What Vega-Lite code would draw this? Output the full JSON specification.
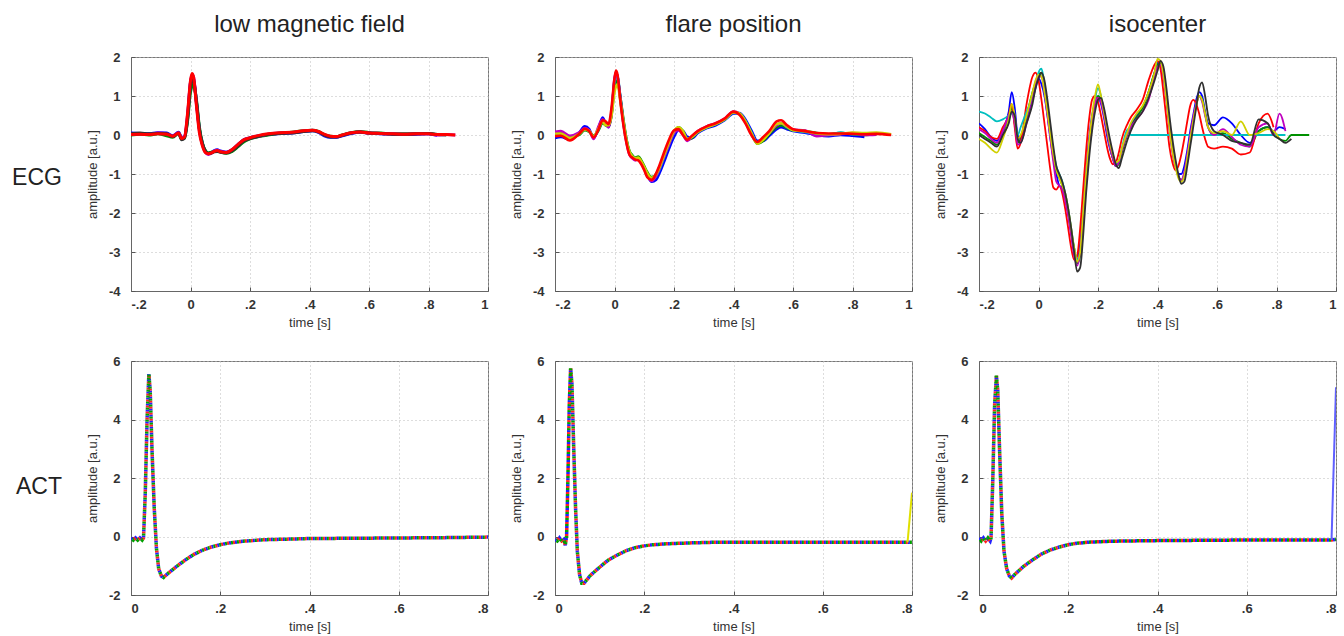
{
"$schema": "https://vega.github.io/schema/vega-lite/v6.json",
"padding": {"left": 12, "top": 12, "right": 0, "bottom": 0},
"background": "white",
"config": {
  "font": "Liberation Sans",
  "view": {"stroke": "#777", "strokeWidth": 1},
  "axis": {"labelFont": "Liberation Sans", "labelFontSize": 13, "labelFontWeight": "bold", "labelColor": "#333", "titleFont": "Liberation Sans", "titleFontSize": 13, "titleFontWeight": "normal", "titleColor": "#333", "domainColor": "#666", "tickColor": "#555", "tickSize": -4, "gridColor": "#bbb", "gridDash": [1, 3], "grid": true},
  "axisX": {"labelPadding": 11, "titlePadding": 5},
  "axisY": {"labelPadding": 15, "titlePadding": 9},
  "title": {"font": "Liberation Sans", "fontWeight": "normal", "color": "#222"}
},
"datasets": {
  "e1": [
    {"t": -0.2, "b": 0.05, "g": 0.0, "m": 0.02, "k": 0.03, "r": 0.01},
    {"t": -0.17, "b": 0.04, "g": 0.02, "m": 0.03, "k": 0.05, "r": 0.02},
    {"t": -0.14, "b": 0.03, "g": 0.0, "m": 0.02, "k": 0.03, "r": 0.01},
    {"t": -0.11, "b": 0.06, "g": 0.03, "m": 0.05, "k": 0.04, "r": 0.03},
    {"t": -0.08, "b": 0.05, "g": -0.02, "m": 0.03, "k": 0.03, "r": 0.02},
    {"t": -0.06, "b": -0.02, "g": -0.06, "m": -0.03, "k": -0.04, "r": -0.03},
    {"t": -0.04, "b": 0.07, "g": 0.05, "m": 0.06, "k": 0.04, "r": 0.05},
    {"t": -0.03, "b": -0.06, "g": -0.1, "m": -0.08, "k": -0.12, "r": -0.09},
    {"t": -0.02, "b": -0.05, "g": -0.07, "m": -0.04, "k": -0.08, "r": -0.05},
    {"t": -0.01, "b": 0.45, "g": 0.35, "m": 0.5, "k": 0.4, "r": 0.55},
    {"t": 0, "b": 1.35, "g": 1.1, "m": 1.35, "k": 1.25, "r": 1.4},
    {"t": 0.005, "b": 1.5, "g": 1.25, "m": 1.55, "k": 1.45, "r": 1.58},
    {"t": 0.01, "b": 1.45, "g": 1.3, "m": 1.5, "k": 1.4, "r": 1.5},
    {"t": 0.02, "b": 0.85, "g": 0.9, "m": 0.8, "k": 0.85, "r": 0.75},
    {"t": 0.03, "b": 0.15, "g": 0.2, "m": 0.1, "k": 0.15, "r": 0.05},
    {"t": 0.04, "b": -0.22, "g": -0.2, "m": -0.25, "k": -0.23, "r": -0.28},
    {"t": 0.05, "b": -0.42, "g": -0.4, "m": -0.44, "k": -0.41, "r": -0.45},
    {"t": 0.06, "b": -0.48, "g": -0.46, "m": -0.5, "k": -0.47, "r": -0.48},
    {"t": 0.07, "b": -0.45, "g": -0.44, "m": -0.47, "k": -0.46, "r": -0.46},
    {"t": 0.08, "b": -0.4, "g": -0.42, "m": -0.41, "k": -0.43, "r": -0.42},
    {"t": 0.09, "b": -0.38, "g": -0.4, "m": -0.39, "k": -0.42, "r": -0.4},
    {"t": 0.1, "b": -0.41, "g": -0.43, "m": -0.42, "k": -0.44, "r": -0.43},
    {"t": 0.12, "b": -0.44, "g": -0.47, "m": -0.45, "k": -0.46, "r": -0.45},
    {"t": 0.14, "b": -0.38, "g": -0.42, "m": -0.38, "k": -0.4, "r": -0.37},
    {"t": 0.16, "b": -0.24, "g": -0.3, "m": -0.26, "k": -0.28, "r": -0.24},
    {"t": 0.18, "b": -0.12, "g": -0.17, "m": -0.13, "k": -0.15, "r": -0.12},
    {"t": 0.2, "b": -0.07, "g": -0.1, "m": -0.08, "k": -0.09, "r": -0.07},
    {"t": 0.23, "b": -0.02, "g": -0.04, "m": -0.03, "k": -0.03, "r": -0.01},
    {"t": 0.26, "b": 0.01, "g": 0.0, "m": 0.02, "k": 0.01, "r": 0.03},
    {"t": 0.3, "b": 0.04, "g": 0.05, "m": 0.05, "k": 0.04, "r": 0.06},
    {"t": 0.34, "b": 0.05, "g": 0.07, "m": 0.06, "k": 0.05, "r": 0.07},
    {"t": 0.38, "b": 0.09, "g": 0.11, "m": 0.1, "k": 0.09, "r": 0.11},
    {"t": 0.41, "b": 0.11, "g": 0.12, "m": 0.12, "k": 0.11, "r": 0.12},
    {"t": 0.43, "b": 0.07, "g": 0.09, "m": 0.08, "k": 0.08, "r": 0.09},
    {"t": 0.45, "b": -0.02, "g": 0.01, "m": 0.0, "k": 0.0, "r": 0.02},
    {"t": 0.47, "b": -0.06, "g": -0.03, "m": -0.04, "k": -0.05, "r": -0.03},
    {"t": 0.49, "b": -0.06, "g": -0.04, "m": -0.05, "k": -0.05, "r": -0.04},
    {"t": 0.51, "b": -0.02, "g": 0.0, "m": -0.01, "k": -0.01, "r": 0.0},
    {"t": 0.54, "b": 0.04, "g": 0.06, "m": 0.05, "k": 0.05, "r": 0.06},
    {"t": 0.57, "b": 0.07, "g": 0.09, "m": 0.08, "k": 0.08, "r": 0.08},
    {"t": 0.6, "b": 0.05, "g": 0.06, "m": 0.05, "k": 0.05, "r": 0.05},
    {"t": 0.64, "b": 0.03, "g": 0.05, "m": 0.04, "k": 0.04, "r": 0.04},
    {"t": 0.68, "b": 0.02, "g": 0.03, "m": 0.03, "k": 0.02, "r": 0.03},
    {"t": 0.72, "b": 0.01, "g": 0.03, "m": 0.02, "k": 0.02, "r": 0.02},
    {"t": 0.76, "b": 0.02, "g": 0.04, "m": 0.03, "k": 0.03, "r": 0.03},
    {"t": 0.8, "b": 0.03, "g": 0.04, "m": 0.03, "k": 0.04, "r": 0.03},
    {"t": 0.83, "b": -0.01, "g": 0.01, "m": 0.0, "k": 0.01, "r": 0.01},
    {"t": 0.86, "b": null, "g": 0.01, "m": 0.01, "k": 0.0, "r": 0.01},
    {"t": 0.89, "b": null, "g": null, "m": 0.0, "k": null, "r": 0.0}
  ],
  "e2": [
    {"t": -0.2, "b": -0.08, "g": 0.05, "c": 0.0, "m": 0.08, "y": 0.03, "r": -0.03},
    {"t": -0.18, "b": -0.05, "g": 0.06, "c": 0.02, "m": 0.1, "y": 0.04, "r": -0.02},
    {"t": -0.15, "b": -0.12, "g": -0.05, "c": -0.1, "m": -0.02, "y": -0.08, "r": -0.14},
    {"t": -0.12, "b": 0.05, "g": 0.0, "c": 0.03, "m": 0.06, "y": 0.02, "r": 0.02},
    {"t": -0.1, "b": 0.22, "g": 0.12, "c": 0.15, "m": 0.18, "y": 0.14, "r": 0.16},
    {"t": -0.085, "b": 0.15, "g": 0.08, "c": 0.1, "m": 0.12, "y": 0.1, "r": 0.1},
    {"t": -0.07, "b": -0.08, "g": -0.02, "c": -0.05, "m": -0.1, "y": -0.04, "r": -0.06},
    {"t": -0.055, "b": 0.15, "g": 0.1, "c": 0.12, "m": 0.2, "y": 0.15, "r": 0.12},
    {"t": -0.04, "b": 0.45, "g": 0.3, "c": 0.35, "m": 0.4, "y": 0.35, "r": 0.38},
    {"t": -0.03, "b": 0.3, "g": 0.25, "c": 0.28, "m": 0.3, "y": 0.25, "r": 0.35},
    {"t": -0.02, "b": 0.2, "g": 0.22, "c": 0.25, "m": 0.2, "y": 0.25, "r": 0.28},
    {"t": -0.01, "b": 0.55, "g": 0.5, "c": 0.6, "m": 0.55, "y": 0.5, "r": 0.7},
    {"t": 0, "b": 1.4, "g": 1.2, "c": 1.35, "m": 1.45, "y": 1.1, "r": 1.45},
    {"t": 0.005, "b": 1.6, "g": 1.35, "c": 1.5, "m": 1.6, "y": 1.25, "r": 1.65},
    {"t": 0.01, "b": 1.5, "g": 1.4, "c": 1.5, "m": 1.5, "y": 1.3, "r": 1.55},
    {"t": 0.02, "b": 0.95, "g": 0.95, "c": 0.9, "m": 0.9, "y": 0.85, "r": 0.85},
    {"t": 0.03, "b": 0.35, "g": 0.4, "c": 0.3, "m": 0.3, "y": 0.35, "r": 0.25},
    {"t": 0.04, "b": -0.12, "g": -0.1, "c": -0.15, "m": -0.18, "y": -0.12, "r": -0.2},
    {"t": 0.05, "b": -0.45, "g": -0.4, "c": -0.45, "m": -0.5, "y": -0.42, "r": -0.5},
    {"t": 0.06, "b": -0.55, "g": -0.52, "c": -0.55, "m": -0.6, "y": -0.55, "r": -0.58},
    {"t": 0.07, "b": -0.62, "g": -0.58, "c": -0.6, "m": -0.65, "y": -0.6, "r": -0.63},
    {"t": 0.08, "b": -0.6, "g": -0.55, "c": -0.62, "m": -0.6, "y": -0.58, "r": -0.65},
    {"t": 0.09, "b": -0.7, "g": -0.65, "c": -0.72, "m": -0.72, "y": -0.68, "r": -0.75},
    {"t": 0.1, "b": -0.85, "g": -0.8, "c": -0.85, "m": -0.88, "y": -0.82, "r": -0.9},
    {"t": 0.11, "b": -1.02, "g": -0.95, "c": -1.0, "m": -1.05, "y": -0.98, "r": -1.08},
    {"t": 0.125, "b": -1.2, "g": -1.08, "c": -1.15, "m": -1.18, "y": -1.1, "r": -1.15},
    {"t": 0.14, "b": -1.15, "g": -1.0, "c": -1.05, "m": -1.05, "y": -1.0, "r": -0.98},
    {"t": 0.15, "b": -1.0, "g": -0.85, "c": -0.9, "m": -0.88, "y": -0.85, "r": -0.8},
    {"t": 0.165, "b": -0.72, "g": -0.55, "c": -0.6, "m": -0.58, "y": -0.55, "r": -0.48},
    {"t": 0.18, "b": -0.42, "g": -0.25, "c": -0.3, "m": -0.3, "y": -0.25, "r": -0.18},
    {"t": 0.2, "b": -0.05, "g": 0.08, "c": 0.05, "m": 0.05, "y": 0.1, "r": 0.12},
    {"t": 0.215, "b": 0.12, "g": 0.2, "c": 0.18, "m": 0.12, "y": 0.2, "r": 0.15},
    {"t": 0.23, "b": 0.1, "g": 0.1, "c": 0.05, "m": 0.0, "y": 0.1, "r": 0.0},
    {"t": 0.245, "b": -0.05, "g": -0.12, "c": -0.1, "m": -0.15, "y": -0.1, "r": -0.12},
    {"t": 0.26, "b": -0.08, "g": -0.08, "c": -0.05, "m": -0.05, "y": -0.05, "r": -0.02},
    {"t": 0.28, "b": 0.05, "g": 0.08, "c": 0.08, "m": 0.1, "y": 0.08, "r": 0.1},
    {"t": 0.31, "b": 0.18, "g": 0.2, "c": 0.2, "m": 0.22, "y": 0.2, "r": 0.22},
    {"t": 0.34, "b": 0.25, "g": 0.28, "c": 0.28, "m": 0.3, "y": 0.28, "r": 0.3},
    {"t": 0.37, "b": 0.38, "g": 0.4, "c": 0.4, "m": 0.42, "y": 0.4, "r": 0.42},
    {"t": 0.4, "b": 0.55, "g": 0.58, "c": 0.57, "m": 0.6, "y": 0.58, "r": 0.6},
    {"t": 0.42, "b": 0.56, "g": 0.55, "c": 0.55, "m": 0.55, "y": 0.55, "r": 0.52},
    {"t": 0.44, "b": 0.4, "g": 0.35, "c": 0.36, "m": 0.33, "y": 0.35, "r": 0.3},
    {"t": 0.46, "b": 0.12, "g": 0.05, "c": 0.06, "m": 0.02, "y": 0.05, "r": 0.0},
    {"t": 0.48, "b": -0.15, "g": -0.22, "c": -0.2, "m": -0.2, "y": -0.22, "r": -0.18},
    {"t": 0.5, "b": -0.15, "g": -0.15, "c": -0.1, "m": -0.1, "y": -0.12, "r": -0.05},
    {"t": 0.52, "b": -0.02, "g": 0.02, "c": 0.05, "m": 0.05, "y": 0.05, "r": 0.1},
    {"t": 0.545, "b": 0.15, "g": 0.2, "c": 0.25, "m": 0.25, "y": 0.28, "r": 0.35},
    {"t": 0.56, "b": 0.2, "g": 0.25, "c": 0.3, "m": 0.3, "y": 0.3, "r": 0.38},
    {"t": 0.58, "b": 0.15, "g": 0.18, "c": 0.2, "m": 0.22, "y": 0.22, "r": 0.25},
    {"t": 0.6, "b": 0.1, "g": 0.12, "c": 0.12, "m": 0.14, "y": 0.12, "r": 0.15},
    {"t": 0.64, "b": 0.06, "g": 0.1, "c": 0.08, "m": 0.12, "y": 0.1, "r": 0.1},
    {"t": 0.68, "b": 0.0, "g": 0.05, "c": 0.03, "m": -0.03, "y": 0.04, "r": 0.05},
    {"t": 0.72, "b": -0.03, "g": 0.02, "c": 0.0, "m": 0.0, "y": 0.02, "r": 0.04},
    {"t": 0.76, "b": 0.0, "g": 0.05, "c": 0.06, "m": 0.02, "y": 0.03, "r": 0.04},
    {"t": 0.8, "b": -0.02, "g": 0.03, "c": 0.02, "m": 0.05, "y": 0.06, "r": 0.03},
    {"t": 0.84, "b": -0.05, "g": 0.0, "c": 0.02, "m": 0.0, "y": 0.05, "r": 0.02},
    {"t": 0.88, "b": null, "g": 0.02, "c": 0.03, "m": 0.01, "y": 0.06, "r": 0.03},
    {"t": 0.93, "b": null, "g": null, "c": null, "m": null, "y": 0.02, "r": 0.0}
  ],
  "e3": [
    {"t": -0.2, "b": 0.3, "g": 0.05, "r": 0.2, "c": 0.6, "m": 0.15, "y": -0.1, "k": 0.0},
    {"t": -0.18, "b": 0.15, "g": -0.05, "r": 0.1, "c": 0.55, "m": 0.05, "y": -0.2, "k": -0.1},
    {"t": -0.16, "b": -0.05, "g": -0.15, "r": -0.05, "c": 0.45, "m": -0.1, "y": -0.35, "k": -0.2},
    {"t": -0.14, "b": -0.15, "g": -0.25, "r": -0.1, "c": 0.35, "m": -0.2, "y": -0.45, "k": -0.3},
    {"t": -0.12, "b": 0.1, "g": 0.0, "r": 0.2, "c": 0.4, "m": 0.1, "y": -0.1, "k": 0.0},
    {"t": -0.1, "b": 0.6, "g": 0.4, "r": 0.5, "c": 0.5, "m": 0.5, "y": 0.4, "k": 0.3},
    {"t": -0.09, "b": 1.1, "g": 0.7, "r": 0.8, "c": 0.55, "m": 0.6, "y": 0.8, "k": 0.6},
    {"t": -0.08, "b": 0.7, "g": 0.3, "r": 0.2, "c": 0.4, "m": 0.3, "y": 0.5, "k": 0.5},
    {"t": -0.07, "b": 0.0, "g": -0.2, "r": -0.35, "c": 0.0, "m": -0.25, "y": -0.1, "k": -0.1},
    {"t": -0.06, "b": -0.1, "g": -0.1, "r": -0.2, "c": 0.2, "m": -0.2, "y": 0.0, "k": -0.2},
    {"t": -0.04, "b": 0.4, "g": 0.5, "r": 0.8, "c": 0.6, "m": 0.3, "y": 0.5, "k": 0.3},
    {"t": -0.02, "b": 0.9, "g": 1.1, "r": 1.5, "c": 1.0, "m": 0.9, "y": 1.1, "k": 0.8},
    {"t": -0.01, "b": 1.2, "g": 1.35, "r": 1.6, "c": 1.3, "m": 1.3, "y": 1.4, "k": 1.2},
    {"t": 0, "b": 1.45, "g": 1.55, "r": 1.4, "c": 1.6, "m": 1.5, "y": 1.55, "k": 1.45},
    {"t": 0.01, "b": 1.3, "g": 1.6, "r": 0.9, "c": 1.7, "m": 1.5, "y": 1.5, "k": 1.6},
    {"t": 0.02, "b": 1.0, "g": 1.2, "r": 0.3, "c": 1.3, "m": 1.1, "y": 1.1, "k": 1.4},
    {"t": 0.03, "b": 0.5, "g": 0.6, "r": -0.3, "c": 0.7, "m": 0.5, "y": 0.6, "k": 0.9},
    {"t": 0.04, "b": -0.1, "g": 0.0, "r": -0.9, "c": 0.1, "m": -0.1, "y": 0.0, "k": 0.3},
    {"t": 0.05, "b": -0.6, "g": -0.5, "r": -1.35, "c": -0.4, "m": -0.7, "y": -0.5, "k": -0.3},
    {"t": 0.06, "b": -1.0, "g": -0.9, "r": -1.4, "c": -0.8, "m": -1.2, "y": -0.9, "k": -0.8},
    {"t": 0.07, "b": -1.3, "g": -1.1, "r": -1.3, "c": -1.0, "m": -1.3, "y": -1.1, "k": -1.0},
    {"t": 0.08, "b": -1.35, "g": -1.3, "r": -1.5, "c": -1.2, "m": -1.4, "y": -1.3, "k": -1.2},
    {"t": 0.09, "b": -1.6, "g": -1.6, "r": -1.9, "c": -1.5, "m": -1.7, "y": -1.5, "k": -1.5},
    {"t": 0.1, "b": -2.0, "g": -2.0, "r": -2.4, "c": -1.9, "m": -2.1, "y": -1.9, "k": -1.9},
    {"t": 0.11, "b": -2.5, "g": -2.5, "r": -2.9, "c": -2.4, "m": -2.6, "y": -2.4, "k": -2.4},
    {"t": 0.12, "b": -3.0, "g": -2.9, "r": -3.2, "c": -2.9, "m": -3.1, "y": -2.9, "k": -3.0},
    {"t": 0.13, "b": -3.2, "g": -3.3, "r": -3.1, "c": -3.2, "m": -3.35, "y": -3.25, "k": -3.5},
    {"t": 0.14, "b": -2.8, "g": -3.1, "r": -2.4, "c": -3.0, "m": -3.0, "y": -3.0, "k": -3.4},
    {"t": 0.15, "b": -1.9, "g": -2.2, "r": -1.4, "c": -2.2, "m": -2.1, "y": -2.0, "k": -2.6},
    {"t": 0.16, "b": -0.9, "g": -1.2, "r": -0.4, "c": -1.2, "m": -1.1, "y": -1.0, "k": -1.5},
    {"t": 0.17, "b": -0.1, "g": -0.3, "r": 0.4, "c": -0.3, "m": -0.2, "y": -0.2, "k": -0.6},
    {"t": 0.18, "b": 0.5, "g": 0.4, "r": 0.9, "c": 0.4, "m": 0.4, "y": 0.5, "k": 0.1},
    {"t": 0.19, "b": 0.8, "g": 0.8, "r": 1.0, "c": 0.9, "m": 0.8, "y": 1.0, "k": 0.6},
    {"t": 0.2, "b": 0.95, "g": 1.0, "r": 0.85, "c": 1.2, "m": 0.95, "y": 1.3, "k": 0.9},
    {"t": 0.21, "b": 0.8, "g": 0.9, "r": 0.5, "c": 1.0, "m": 0.85, "y": 1.0, "k": 0.95},
    {"t": 0.22, "b": 0.45, "g": 0.55, "r": 0.1, "c": 0.6, "m": 0.5, "y": 0.6, "k": 0.7},
    {"t": 0.23, "b": 0.0, "g": 0.1, "r": -0.3, "c": 0.15, "m": 0.1, "y": 0.2, "k": 0.3},
    {"t": 0.24, "b": -0.35, "g": -0.3, "r": -0.6, "c": -0.25, "m": -0.3, "y": -0.2, "k": -0.1},
    {"t": 0.25, "b": -0.6, "g": -0.6, "r": -0.75, "c": -0.55, "m": -0.6, "y": -0.5, "k": -0.45},
    {"t": 0.26, "b": -0.8, "g": -0.8, "r": -0.7, "c": -0.75, "m": -0.8, "y": -0.7, "k": -0.75},
    {"t": 0.27, "b": -0.7, "g": -0.75, "r": -0.45, "c": -0.7, "m": -0.7, "y": -0.65, "k": -0.85},
    {"t": 0.28, "b": -0.4, "g": -0.45, "r": -0.1, "c": -0.35, "m": -0.4, "y": -0.35, "k": -0.6},
    {"t": 0.3, "b": 0.1, "g": 0.05, "r": 0.3, "c": 0.15, "m": 0.05, "y": 0.1, "k": -0.1},
    {"t": 0.31, "b": 0.25, "g": 0.2, "r": 0.45, "c": 0.0, "m": 0.2, "y": 0.3, "k": 0.1},
    {"t": 0.33, "b": 0.5, "g": 0.45, "r": 0.65, "c": 0.0, "m": 0.4, "y": 0.55, "k": 0.4},
    {"t": 0.35, "b": 0.7, "g": 0.7, "r": 0.9, "c": 0.0, "m": 0.6, "y": 0.75, "k": 0.6},
    {"t": 0.37, "b": 1.1, "g": 1.1, "r": 1.4, "c": 0.0, "m": 0.9, "y": 1.1, "k": 0.95},
    {"t": 0.39, "b": 1.6, "g": 1.6, "r": 1.8, "c": 0.0, "m": 1.5, "y": 1.6, "k": 1.4},
    {"t": 0.4, "b": 1.85, "g": 1.8, "r": 1.9, "c": 0.0, "m": 1.75, "y": 1.95, "k": 1.65},
    {"t": 0.41, "b": 1.85, "g": 1.85, "r": 1.7, "c": 0.0, "m": 1.8, "y": 1.9, "k": 1.9},
    {"t": 0.42, "b": 1.5, "g": 1.6, "r": 1.1, "c": 0.0, "m": 1.5, "y": 1.55, "k": 1.75},
    {"t": 0.43, "b": 0.9, "g": 1.0, "r": 0.4, "c": 0.0, "m": 0.9, "y": 0.9, "k": 1.2},
    {"t": 0.44, "b": 0.2, "g": 0.3, "r": -0.3, "c": 0.0, "m": 0.2, "y": 0.2, "k": 0.5},
    {"t": 0.45, "b": -0.4, "g": -0.3, "r": -0.7, "c": 0.0, "m": -0.4, "y": -0.4, "k": -0.1},
    {"t": 0.46, "b": -0.8, "g": -0.75, "r": -0.9, "c": 0.0, "m": -0.8, "y": -0.8, "k": -0.6},
    {"t": 0.47, "b": -1.0, "g": -1.05, "r": -0.8, "c": 0.0, "m": -1.05, "y": -1.1, "k": -1.0},
    {"t": 0.48, "b": -1.0, "g": -1.15, "r": -0.5, "c": 0.0, "m": -1.15, "y": -1.2, "k": -1.25},
    {"t": 0.49, "b": -0.8, "g": -1.0, "r": -0.1, "c": 0.0, "m": -0.95, "y": -1.05, "k": -1.2},
    {"t": 0.5, "b": -0.4, "g": -0.6, "r": 0.35, "c": 0.0, "m": -0.5, "y": -0.6, "k": -0.8},
    {"t": 0.51, "b": 0.1, "g": -0.1, "r": 0.75, "c": 0.0, "m": 0.0, "y": -0.1, "k": -0.3},
    {"t": 0.52, "b": 0.5, "g": 0.35, "r": 0.9, "c": 0.0, "m": 0.45, "y": 0.35, "k": 0.2},
    {"t": 0.53, "b": 0.9, "g": 0.75, "r": 0.8, "c": 0.0, "m": 0.8, "y": 0.75, "k": 0.7},
    {"t": 0.54, "b": 1.1, "g": 1.0, "r": 0.55, "c": 0.0, "m": 1.0, "y": 1.0, "k": 1.2},
    {"t": 0.55, "b": 1.0, "g": 0.9, "r": 0.2, "c": 0.0, "m": 0.85, "y": 0.9, "k": 1.35},
    {"t": 0.56, "b": 0.6, "g": 0.55, "r": -0.1, "c": 0.0, "m": 0.5, "y": 0.55, "k": 1.0},
    {"t": 0.57, "b": 0.3, "g": 0.2, "r": -0.3, "c": 0.0, "m": 0.2, "y": 0.2, "k": 0.5},
    {"t": 0.59, "b": 0.25, "g": 0.0, "r": -0.35, "c": 0.0, "m": 0.0, "y": 0.05, "k": 0.1},
    {"t": 0.62, "b": 0.45, "g": 0.05, "r": -0.3, "c": 0.0, "m": 0.15, "y": 0.1, "k": 0.0},
    {"t": 0.65, "b": 0.3, "g": -0.1, "r": -0.35, "c": 0.0, "m": -0.05, "y": 0.0, "k": -0.15},
    {"t": 0.68, "b": 0.0, "g": -0.2, "r": -0.5, "c": 0.0, "m": -0.25, "y": 0.35, "k": -0.2},
    {"t": 0.71, "b": -0.2, "g": -0.3, "r": -0.45, "c": 0.0, "m": -0.3, "y": 0.0, "k": -0.25},
    {"t": 0.74, "b": 0.1, "g": 0.1, "r": 0.3, "c": 0.0, "m": 0.2, "y": 0.05, "k": 0.4},
    {"t": 0.77, "b": 0.2, "g": 0.2, "r": 0.55, "c": 0.0, "m": 0.3, "y": 0.15, "k": 0.3},
    {"t": 0.79, "b": 0.1, "g": 0.05, "r": 0.2, "c": 0.0, "m": 0.0, "y": 0.1, "k": 0.0},
    {"t": 0.81, "b": 0.2, "g": -0.1, "r": null, "c": 0.0, "m": 0.55, "y": -0.1, "k": -0.1},
    {"t": 0.83, "b": 0.15, "g": -0.15, "r": null, "c": 0.0, "m": 0.1, "y": null, "k": -0.2},
    {"t": 0.85, "b": null, "g": 0.0, "r": null, "c": null, "m": null, "y": null, "k": -0.1},
    {"t": 0.88, "b": null, "g": 0.0, "r": null, "c": null, "m": null, "y": null, "k": null},
    {"t": 0.91, "b": null, "g": 0.0, "r": null, "c": null, "m": null, "y": null, "k": null}
  ],
  "a1": [
    {"t": 0, "v": -0.05}, {"t": 0.005, "v": -0.12}, {"t": 0.01, "v": -0.05}, {"t": 0.015, "v": -0.12},
    {"t": 0.02, "v": -0.05}, {"t": 0.025, "v": -0.12}, {"t": 0.028, "v": -0.05}, {"t": 0.032, "v": 1.5},
    {"t": 0.036, "v": 4.0}, {"t": 0.04, "v": 5.55}, {"t": 0.043, "v": 5.0}, {"t": 0.047, "v": 3.0},
    {"t": 0.052, "v": 1.0}, {"t": 0.057, "v": -0.4}, {"t": 0.062, "v": -1.1}, {"t": 0.068, "v": -1.35},
    {"t": 0.073, "v": -1.4}, {"t": 0.08, "v": -1.3}, {"t": 0.1, "v": -1.05}, {"t": 0.12, "v": -0.82},
    {"t": 0.14, "v": -0.62}, {"t": 0.16, "v": -0.47}, {"t": 0.18, "v": -0.36}, {"t": 0.2, "v": -0.28},
    {"t": 0.22, "v": -0.22}, {"t": 0.25, "v": -0.16}, {"t": 0.3, "v": -0.11}, {"t": 0.35, "v": -0.09},
    {"t": 0.4, "v": -0.07}, {"t": 0.5, "v": -0.06}, {"t": 0.6, "v": -0.05}, {"t": 0.7, "v": -0.04},
    {"t": 0.8, "v": -0.02}
  ],
  "a2": [
    {"t": 0, "v": -0.1}, {"t": 0.005, "v": -0.15}, {"t": 0.01, "v": -0.05}, {"t": 0.015, "v": -0.15},
    {"t": 0.02, "v": -0.1}, {"t": 0.023, "v": -0.3}, {"t": 0.026, "v": 0.0}, {"t": 0.029, "v": 2.0},
    {"t": 0.032, "v": 4.5}, {"t": 0.035, "v": 5.75}, {"t": 0.038, "v": 5.2}, {"t": 0.042, "v": 3.0},
    {"t": 0.046, "v": 1.0}, {"t": 0.05, "v": -0.5}, {"t": 0.055, "v": -1.3}, {"t": 0.06, "v": -1.6},
    {"t": 0.065, "v": -1.6}, {"t": 0.07, "v": -1.5}, {"t": 0.08, "v": -1.32}, {"t": 0.1, "v": -1.05},
    {"t": 0.12, "v": -0.8}, {"t": 0.14, "v": -0.63}, {"t": 0.16, "v": -0.48}, {"t": 0.18, "v": -0.38},
    {"t": 0.2, "v": -0.32}, {"t": 0.22, "v": -0.28}, {"t": 0.25, "v": -0.25}, {"t": 0.3, "v": -0.22},
    {"t": 0.35, "v": -0.2}, {"t": 0.4, "v": -0.2}, {"t": 0.5, "v": -0.2}, {"t": 0.6, "v": -0.2},
    {"t": 0.7, "v": -0.2}, {"t": 0.79, "v": -0.2, "e": -0.2}, {"t": 0.8, "v": -0.2, "e": 1.5}
  ],
  "a3": [
    {"t": 0, "v": -0.05}, {"t": 0.005, "v": -0.15}, {"t": 0.01, "v": -0.05}, {"t": 0.015, "v": -0.15},
    {"t": 0.02, "v": -0.05}, {"t": 0.025, "v": -0.15}, {"t": 0.027, "v": -0.05}, {"t": 0.031, "v": 2.0},
    {"t": 0.035, "v": 4.5}, {"t": 0.039, "v": 5.5}, {"t": 0.042, "v": 5.0}, {"t": 0.046, "v": 3.0},
    {"t": 0.051, "v": 0.8}, {"t": 0.056, "v": -0.5}, {"t": 0.062, "v": -1.1}, {"t": 0.068, "v": -1.35},
    {"t": 0.073, "v": -1.42}, {"t": 0.08, "v": -1.3}, {"t": 0.1, "v": -1.02}, {"t": 0.12, "v": -0.8},
    {"t": 0.14, "v": -0.6}, {"t": 0.16, "v": -0.46}, {"t": 0.18, "v": -0.36}, {"t": 0.2, "v": -0.28},
    {"t": 0.22, "v": -0.23}, {"t": 0.25, "v": -0.19}, {"t": 0.3, "v": -0.16}, {"t": 0.4, "v": -0.14},
    {"t": 0.5, "v": -0.13}, {"t": 0.6, "v": -0.12}, {"t": 0.7, "v": -0.12}, {"t": 0.79, "v": -0.12, "e": -0.12},
    {"t": 0.8, "v": -0.1, "e": 5.1}
  ]
},
"vconcat": [
  {
    "title": {"text": "ECG", "orient": "left", "angle": 0, "align": "left", "baseline": "middle", "anchor": "middle", "frame": "group", "fontSize": 23, "offset": 24, "dy": 121},
    "spacing": 67,
    "bounds": "flush",
    "hconcat": [
      {
        "width": 357, "height": 234,
        "title": {"text": "low magnetic field", "fontSize": 24, "offset": -5, "baseline": "alphabetic"},
        "data": {"name": "e1"},
        "transform": [{"fold": ["b", "g", "m", "k", "r"], "as": ["trace", "v"]}],
        "mark": {"type": "line", "strokeWidth": 3, "interpolate": "monotone", "clip": true},
        "encoding": {
          "x": {"field": "t", "type": "quantitative", "scale": {"domain": [-0.2, 1], "nice": false, "zero": false}, "axis": {"title": "time [s]", "values": [-0.2, 0, 0.2, 0.4, 0.6, 0.8, 1], "labelExpr": "datum.value==0?'0':datum.value==1?'1':(datum.value<0?'-':'')+'.'+round(abs(datum.value)*10)"}},
          "y": {"field": "v", "type": "quantitative", "scale": {"domain": [-4, 2], "nice": false, "zero": false}, "axis": {"title": "amplitude [a.u.]", "values": [-4, -3, -2, -1, 0, 1, 2], "labelExpr": "''+datum.value"}},
          "color": {"field": "trace", "type": "nominal", "scale": {"domain": ["b", "g", "r", "c", "m", "y", "k"], "range": ["#0000FF", "#009000", "#FF0000", "#00BFBF", "#BF00BF", "#D0D000", "#303030"]}, "legend": null}
        }
      },
      {
        "width": 357, "height": 234,
        "title": {"text": "flare position", "fontSize": 24, "offset": -5, "baseline": "alphabetic"},
        "data": {"name": "e2"},
        "transform": [{"fold": ["b", "g", "c", "m", "y", "r"], "as": ["trace", "v"]}],
        "mark": {"type": "line", "strokeWidth": 2.6, "interpolate": "monotone", "clip": true},
        "encoding": {
          "x": {"field": "t", "type": "quantitative", "scale": {"domain": [-0.2, 1], "nice": false, "zero": false}, "axis": {"title": "time [s]", "values": [-0.2, 0, 0.2, 0.4, 0.6, 0.8, 1], "labelExpr": "datum.value==0?'0':datum.value==1?'1':(datum.value<0?'-':'')+'.'+round(abs(datum.value)*10)"}},
          "y": {"field": "v", "type": "quantitative", "scale": {"domain": [-4, 2], "nice": false, "zero": false}, "axis": {"title": "amplitude [a.u.]", "values": [-4, -3, -2, -1, 0, 1, 2], "labelExpr": "''+datum.value"}},
          "color": {"field": "trace", "type": "nominal", "scale": {"domain": ["b", "g", "r", "c", "m", "y", "k"], "range": ["#0000FF", "#009000", "#FF0000", "#00BFBF", "#BF00BF", "#D0D000", "#303030"]}, "legend": null}
        }
      },
      {
        "width": 357, "height": 234,
        "title": {"text": "isocenter", "fontSize": 24, "offset": -5, "baseline": "alphabetic"},
        "data": {"name": "e3"},
        "transform": [{"fold": ["b", "g", "r", "c", "m", "y", "k"], "as": ["trace", "v"]}],
        "mark": {"type": "line", "strokeWidth": 1.8, "interpolate": "monotone", "clip": true},
        "encoding": {
          "x": {"field": "t", "type": "quantitative", "scale": {"domain": [-0.2, 1], "nice": false, "zero": false}, "axis": {"title": "time [s]", "values": [-0.2, 0, 0.2, 0.4, 0.6, 0.8, 1], "labelExpr": "datum.value==0?'0':datum.value==1?'1':(datum.value<0?'-':'')+'.'+round(abs(datum.value)*10)"}},
          "y": {"field": "v", "type": "quantitative", "scale": {"domain": [-4, 2], "nice": false, "zero": false}, "axis": {"title": "amplitude [a.u.]", "values": [-4, -3, -2, -1, 0, 1, 2], "labelExpr": "''+datum.value"}},
          "color": {"field": "trace", "type": "nominal", "scale": {"domain": ["b", "g", "r", "c", "m", "y", "k"], "range": ["#0000FF", "#009000", "#FF0000", "#00BFBF", "#BF00BF", "#D0D000", "#303030"]}, "legend": null}
        }
      }
    ]
  },
  {
    "title": {"text": "ACT", "orient": "left", "angle": 0, "align": "left", "baseline": "middle", "anchor": "middle", "frame": "group", "fontSize": 23, "offset": 24, "dy": 126},
    "spacing": 67,
    "bounds": "flush",
    "hconcat": [
      {
        "width": 357, "height": 234,
        "data": {"name": "a1"},
        "encoding": {
          "x": {"field": "t", "type": "quantitative", "scale": {"domain": [0, 0.8], "nice": false, "zero": false}, "axis": {"title": "time [s]", "values": [0, 0.2, 0.4, 0.6, 0.8], "labelExpr": "datum.value==0?'0':'.'+round(datum.value*10)"}},
          "y": {"field": "v", "type": "quantitative", "scale": {"domain": [-2, 6], "nice": false, "zero": false}, "axis": {"title": "amplitude [a.u.]", "values": [-2, 0, 2, 4, 6], "labelExpr": "''+datum.value"}}
        },
        "layer": [
          {"mark": {"type": "line", "color": "#2020FF", "strokeWidth": 3.5, "strokeDash": [2, 4], "strokeDashOffset": 0, "clip": true}},
          {"mark": {"type": "line", "color": "#FF2020", "strokeWidth": 3.5, "strokeDash": [2, 4], "strokeDashOffset": 2, "clip": true}},
          {"mark": {"type": "line", "color": "#00A000", "strokeWidth": 3.5, "strokeDash": [2, 4], "strokeDashOffset": 4, "clip": true}}
        ]
      },
      {
        "width": 357, "height": 234,
        "data": {"name": "a2"},
        "encoding": {
          "x": {"field": "t", "type": "quantitative", "scale": {"domain": [0, 0.8], "nice": false, "zero": false}, "axis": {"title": "time [s]", "values": [0, 0.2, 0.4, 0.6, 0.8], "labelExpr": "datum.value==0?'0':'.'+round(datum.value*10)"}},
          "y": {"field": "v", "type": "quantitative", "scale": {"domain": [-2, 6], "nice": false, "zero": false}, "axis": {"title": "amplitude [a.u.]", "values": [-2, 0, 2, 4, 6], "labelExpr": "''+datum.value"}}
        },
        "layer": [
          {"mark": {"type": "line", "color": "#2020FF", "strokeWidth": 3.5, "strokeDash": [2, 4], "strokeDashOffset": 0, "clip": true}},
          {"mark": {"type": "line", "color": "#FF2020", "strokeWidth": 3.5, "strokeDash": [2, 4], "strokeDashOffset": 2, "clip": true}},
          {"mark": {"type": "line", "color": "#00A000", "strokeWidth": 3.5, "strokeDash": [2, 4], "strokeDashOffset": 4, "clip": true}},
          {"mark": {"type": "line", "color": "#E0E000", "strokeWidth": 2, "clip": true}, "encoding": {"y": {"field": "e", "type": "quantitative"}}}
        ]
      },
      {
        "width": 357, "height": 234,
        "data": {"name": "a3"},
        "encoding": {
          "x": {"field": "t", "type": "quantitative", "scale": {"domain": [0, 0.8], "nice": false, "zero": false}, "axis": {"title": "time [s]", "values": [0, 0.2, 0.4, 0.6, 0.8], "labelExpr": "datum.value==0?'0':'.'+round(datum.value*10)"}},
          "y": {"field": "v", "type": "quantitative", "scale": {"domain": [-2, 6], "nice": false, "zero": false}, "axis": {"title": "amplitude [a.u.]", "values": [-2, 0, 2, 4, 6], "labelExpr": "''+datum.value"}}
        },
        "layer": [
          {"mark": {"type": "line", "color": "#2020FF", "strokeWidth": 3.5, "strokeDash": [2, 4], "strokeDashOffset": 0, "clip": true}},
          {"mark": {"type": "line", "color": "#FF2020", "strokeWidth": 3.5, "strokeDash": [2, 4], "strokeDashOffset": 2, "clip": true}},
          {"mark": {"type": "line", "color": "#00A000", "strokeWidth": 3.5, "strokeDash": [2, 4], "strokeDashOffset": 4, "clip": true}},
          {"mark": {"type": "line", "color": "#6060FF", "strokeWidth": 2, "clip": true}, "encoding": {"y": {"field": "e", "type": "quantitative"}}}
        ]
      }
    ]
  }
],
"spacing": 24
}
